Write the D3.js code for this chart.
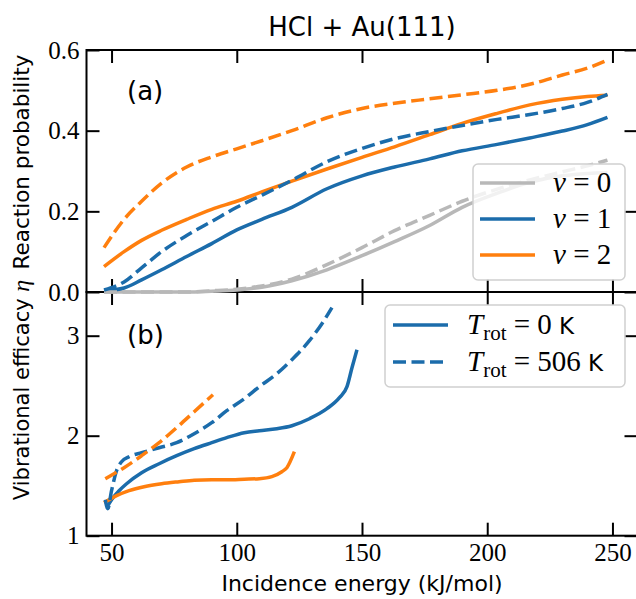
<!DOCTYPE html>
<html>
<head>
<meta charset="utf-8">
<script src="https://cdn.jsdelivr.net/npm/d3@7"></script>
<style>
  body { margin: 0; background: #fff; }
  svg { display: block; }
</style>
</head>
<body>
<svg id="chart"></svg>
<script>
// energies (kJ/mol) for panel (a)
const energyA = [47, 55, 62, 70, 80, 90, 100, 110, 122, 136, 150, 163, 177, 190, 204, 217, 230, 240, 248];
const v0Cold = [0, 0, 0, 0, 0, 0.002, 0.005, 0.012, 0.028, 0.055, 0.09, 0.125, 0.165, 0.21, 0.245, 0.272, 0.288, 0.294, 0.296];
const v0Hot  = [0, 0, 0, 0, 0, 0.003, 0.007, 0.015, 0.032, 0.068, 0.11, 0.152, 0.19, 0.225, 0.255, 0.278, 0.298, 0.313, 0.327];
const v1Cold = [0.003, 0.01, 0.03, 0.055, 0.088, 0.12, 0.154, 0.18, 0.21, 0.256, 0.288, 0.31, 0.33, 0.35, 0.366, 0.382, 0.399, 0.415, 0.433];
const v1Hot  = [0.005, 0.025, 0.06, 0.1, 0.14, 0.175, 0.21, 0.24, 0.277, 0.323, 0.356, 0.38, 0.398, 0.413, 0.428, 0.44, 0.455, 0.47, 0.49];
const v2Cold = [0.063, 0.1, 0.128, 0.153, 0.18, 0.205, 0.225, 0.248, 0.275, 0.305, 0.334, 0.36, 0.39, 0.418, 0.443, 0.464, 0.478, 0.485, 0.488];
const v2Hot  = [0.11, 0.18, 0.225, 0.27, 0.31, 0.335, 0.355, 0.375, 0.4, 0.432, 0.455, 0.468, 0.479, 0.489, 0.5, 0.515, 0.538, 0.555, 0.575];

// panel (b): vibrational efficacy
const eta1ColdE = [48, 50, 53, 56, 62, 69, 76, 83, 90, 96, 103, 109, 116, 122, 129, 136, 141, 144, 146, 148];
const eta1Cold  = [1.28, 1.36, 1.45, 1.52, 1.63, 1.72, 1.8, 1.87, 1.93, 1.98, 2.03, 2.05, 2.07, 2.1, 2.17, 2.27, 2.38, 2.49, 2.68, 2.86];
const eta1HotE = [47.5, 48.5, 50, 52, 54, 57, 62, 69, 76, 83, 90, 96, 103, 109, 116, 122, 129, 134, 138];
const eta1Hot  = [1.36, 1.27, 1.45, 1.65, 1.74, 1.79, 1.83, 1.88, 1.93, 2.02, 2.13, 2.25, 2.37, 2.49, 2.62, 2.76, 2.95, 3.12, 3.28];
const eta2ColdE = [47, 52, 57, 63, 70, 77, 83, 90, 96, 103, 109, 114, 118, 120, 123];
const eta2Cold  = [1.33, 1.4, 1.45, 1.49, 1.52, 1.54, 1.555, 1.56, 1.56, 1.565, 1.57, 1.59, 1.64, 1.68, 1.84];
const eta2HotE = [47.5, 55, 62, 69, 76, 83, 90.5];
const eta2Hot  = [1.57, 1.68, 1.8, 1.93, 2.08, 2.24, 2.41];

const xTicks = [50, 100, 150, 200, 250];
const yTicksA = [0, 0.2, 0.4, 0.6];
const yTicksB = [1, 2, 3];

const width = 636, height = 599;
const left = 86.5, right = 637.5;
const topA = 50, midY = 292, bottomB = 535.7;
const blue = "#1b6cab", orange = "#ff7f0e", grey = "#b8b8b8";
const sans = "'DejaVu Sans', sans-serif";
const serif = "'Liberation Serif', serif";
const dashed = "13,5.5";

const svg = d3.select("#chart").attr("width", width).attr("height", height);

const x = d3.scaleLinear().domain([40, 260]).range([left, right]);
const yA = d3.scaleLinear().domain([0, 0.6]).range([midY, topA]);
const yB = d3.scaleLinear().domain([1, 3.437]).range([bottomB, midY]);

const zip = (xs, ys) => xs.map((e, i) => [e, ys[i]]);

function drawPanel(y, yTicks, top, bottom, showX, fmt) {
  const g = svg.append("g");
  const tick = 13;
  g.append("g").attr("transform", `translate(0,${bottom})`)
    .call(d3.axisBottom(x).tickValues(xTicks).tickSizeInner(-tick).tickSizeOuter(0).tickPadding(8)
      .tickFormat(showX ? d3.format("d") : ""));
  g.append("g").attr("transform", `translate(0,${top})`)
    .call(d3.axisTop(x).tickValues(xTicks).tickSizeInner(-tick).tickSizeOuter(0).tickFormat(""));
  g.append("g").attr("transform", `translate(${left},0)`)
    .call(d3.axisLeft(y).tickValues(yTicks).tickSizeInner(-tick).tickSizeOuter(0).tickPadding(7).tickFormat(fmt));
  g.append("g").attr("transform", `translate(${right},0)`)
    .call(d3.axisRight(y).tickValues(yTicks).tickSizeInner(-tick).tickSizeOuter(0).tickFormat(""));
  g.selectAll(".domain").remove();
  g.selectAll(".tick line").attr("stroke", "#000").attr("stroke-width", 2);
  g.selectAll(".tick text").attr("font-size", 25).attr("font-family", serif).attr("fill", "#000");
  g.append("rect").attr("x", left).attr("y", top).attr("width", right - left).attr("height", bottom - top)
    .attr("fill", "none").attr("stroke", "#000").attr("stroke-width", 2);
  return g;
}

drawPanel(yA, yTicksA, topA, midY, false, d3.format(".1f"));
drawPanel(yB, yTicksB, midY, bottomB, true, d3.format("d"));

const lineA = d3.line().x(d => x(d[0])).y(d => yA(d[1])).curve(d3.curveMonotoneX);
const lineB = d3.line().x(d => x(d[0])).y(d => yB(d[1])).curve(d3.curveMonotoneX);

const seriesA = [
  { data: zip(energyA, v0Cold), color: grey, dash: null },
  { data: zip(energyA, v1Cold), color: blue, dash: null },
  { data: zip(energyA, v2Cold), color: orange, dash: null },
  { data: zip(energyA, v0Hot), color: grey, dash: dashed },
  { data: zip(energyA, v1Hot), color: blue, dash: dashed },
  { data: zip(energyA, v2Hot), color: orange, dash: dashed },
];
const seriesB = [
  { data: zip(eta1ColdE, eta1Cold), color: blue, dash: null },
  { data: zip(eta2ColdE, eta2Cold), color: orange, dash: null },
  { data: zip(eta1HotE, eta1Hot), color: blue, dash: dashed },
  { data: zip(eta2HotE, eta2Hot), color: orange, dash: dashed },
];

svg.append("g").selectAll("path").data(seriesA).join("path")
  .attr("d", d => lineA(d.data)).attr("fill", "none")
  .attr("stroke", d => d.color).attr("stroke-width", 3.5)
  .attr("stroke-dasharray", d => d.dash);
svg.append("g").selectAll("path").data(seriesB).join("path")
  .attr("d", d => lineB(d.data)).attr("fill", "none")
  .attr("stroke", d => d.color).attr("stroke-width", 3.5)
  .attr("stroke-dasharray", d => d.dash);

// legend (a)
const legA = svg.append("g");
legA.append("rect").attr("x", 473).attr("y", 164).attr("width", 152).attr("height", 116).attr("rx", 5)
  .attr("fill", "#fff").attr("fill-opacity", 0.8).attr("stroke", "#d0d0d0").attr("stroke-width", 1.5);
const legAItems = [{ v: "0", color: grey }, { v: "1", color: blue }, { v: "2", color: orange }];
legAItems.forEach((d, i) => {
  const cy = 183 + i * 36;
  legA.append("line").attr("x1", 480).attr("x2", 535).attr("y1", cy).attr("y2", cy)
    .attr("stroke", d.color).attr("stroke-width", 3.5);
  const t = legA.append("text").attr("x", 553).attr("y", cy + 9).attr("font-family", serif).attr("font-size", 29);
  t.append("tspan").attr("font-style", "italic").text("ν");
  t.append("tspan").text(" = " + d.v);
});

// legend (b)
const legB = svg.append("g");
legB.append("rect").attr("x", 385).attr("y", 305).attr("width", 240).attr("height", 82).attr("rx", 5)
  .attr("fill", "#fff").attr("fill-opacity", 0.8).attr("stroke", "#d0d0d0").attr("stroke-width", 1.5);
["0", "506"].forEach((tv, i) => {
  const cy = 325 + i * 37;
  legB.append("line").attr("x1", 393).attr("x2", 448).attr("y1", cy).attr("y2", cy)
    .attr("stroke", blue).attr("stroke-width", 3.5).attr("stroke-dasharray", i ? dashed : null);
  const t = legB.append("text").attr("x", 467).attr("y", cy + 9).attr("font-family", serif).attr("font-size", 29);
  t.append("tspan").attr("font-style", "italic").text("T");
  t.append("tspan").attr("font-size", 21).attr("dy", 6).text("rot");
  t.append("tspan").attr("dy", -6).text(" = " + tv + " ");
  t.append("tspan").attr("font-family", sans).attr("font-size", 23).text("K");
});

// titles and labels
svg.append("text").attr("x", 362).attr("y", 36).attr("text-anchor", "middle")
  .attr("font-family", sans).attr("font-size", 26).text("HCl + Au(111)");
svg.append("text").attr("x", 362).attr("y", 591).attr("text-anchor", "middle")
  .attr("font-family", sans).attr("font-size", 22).text("Incidence energy (kJ/mol)");
svg.append("text").attr("transform", "translate(29,162) rotate(-90)").attr("text-anchor", "middle")
  .attr("font-family", sans).attr("font-size", 21.5).text("Reaction probability");
const yl = svg.append("text").attr("transform", "translate(29,390) rotate(-90)").attr("text-anchor", "middle")
  .attr("font-family", sans).attr("font-size", 21);
yl.append("tspan").text("Vibrational efficacy ");
yl.append("tspan").attr("font-family", serif).attr("font-style", "italic").attr("font-size", 24).text("η");
svg.append("text").attr("x", 127).attr("y", 100).attr("font-family", sans).attr("font-size", 26).text("(a)");
svg.append("text").attr("x", 127).attr("y", 344).attr("font-family", sans).attr("font-size", 26).text("(b)");
</script>
</body>
</html>
